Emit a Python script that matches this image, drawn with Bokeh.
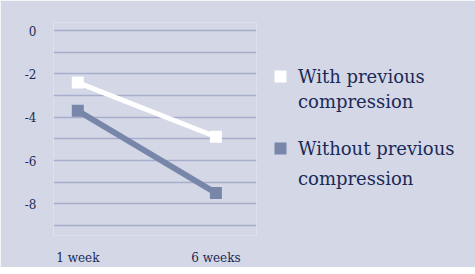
from bokeh.plotting import figure
from bokeh.models import Range1d, FixedTicker, Legend, LegendItem
from bokeh.embed import file_html
from bokeh.resources import INLINE

categories = ["1 week", "6 weeks"]
x_pos = [0, 1]
with_prev = [-2.4, -4.9]
without_prev = [-3.7, -7.5]
y_ticks = [0, -2, -4, -6, -8]
y_tick_labels = ["0", "-2", "-4", "-6", "-8"]
grid_ticks = [0, -1, -2, -3, -4, -5, -6, -7, -8, -9]
series_lines = [["With previous", "compression"], ["Without previous", "compression"]]

BG = "#d3d7e6"
BLUE = "#7886a9"
GRID = "#a6aecb"
TXT = "#1b2a56"
FONT = "DejaVu Serif"

p = figure(frame_width=203, frame_height=213, output_backend="svg", toolbar_location=None,
           x_range=Range1d(-0.176, 1.294), y_range=Range1d(-9.462, 0.374),
           min_border_left=53, min_border_right=203, min_border_top=22, min_border_bottom=23)
p.background_fill_color = BG
p.border_fill_color = BG
p.outline_line_color = None

p.xgrid.visible = False
p.ygrid.ticker = FixedTicker(ticks=grid_ticks)
p.ygrid.grid_line_color = GRID
p.ygrid.grid_line_width = 1.5

p.yaxis.ticker = FixedTicker(ticks=y_ticks)
p.yaxis.major_label_overrides = {t: s for t, s in zip(y_ticks, y_tick_labels)}
p.xaxis.ticker = FixedTicker(ticks=x_pos)
p.xaxis.major_label_overrides = {x: c for x, c in zip(x_pos, categories)}
for ax in (p.xaxis, p.yaxis):
    ax.axis_line_color = None
    ax.major_tick_line_color = None
    ax.minor_tick_line_color = None
    ax.major_label_text_font = FONT
    ax.major_label_text_font_size = "12px"
    ax.major_label_text_color = TXT
p.yaxis.major_label_standoff = 11
p.xaxis.major_label_standoff = 9

p.line(x_pos, with_prev, line_color="white", line_width=5)
r1 = p.scatter(x_pos, with_prev, marker="square", size=12, fill_color="white", line_color=None)
p.line(x_pos, without_prev, line_color=BLUE, line_width=6)
r2 = p.scatter(x_pos, without_prev, marker="square", size=12, fill_color=BLUE, line_color=None)
# invisible renderer used only for the continuation lines of the legend labels
blank = p.scatter(x_pos, with_prev, size=0, fill_alpha=0, line_alpha=0)

legend = Legend(items=[LegendItem(label=series_lines[0][0], renderers=[r1]),
                       LegendItem(label=series_lines[0][1] + "\n ", renderers=[blank]),
                       LegendItem(label=series_lines[1][0], renderers=[r2]),
                       LegendItem(label=series_lines[1][1], renderers=[blank])],
                location=(9, 42))
legend.background_fill_alpha = 0
legend.border_line_color = None
legend.label_text_font = FONT
legend.label_text_font_size = "18px"
legend.label_text_color = TXT
legend.glyph_width = 30
legend.glyph_height = 30
legend.label_standoff = 3
legend.spacing = 0
legend.margin = 0
legend.padding = 0
p.add_layout(legend, "right")

open("out.html", "w").write(file_html(p, INLINE))
